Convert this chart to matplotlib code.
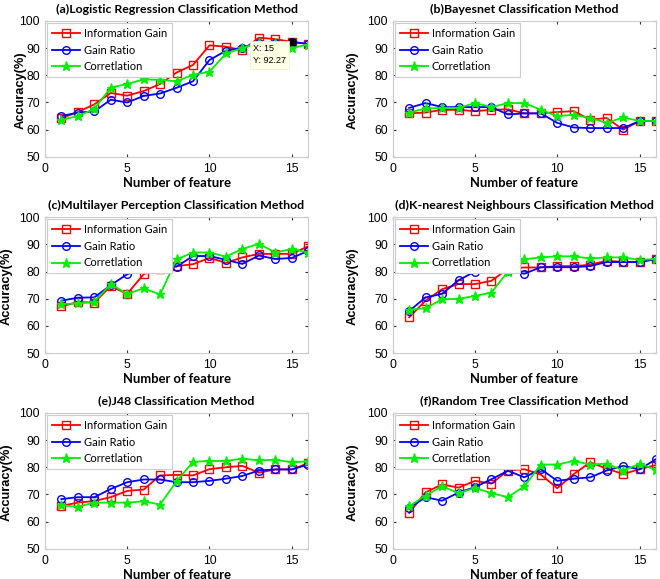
import numpy as np
import matplotlib
matplotlib.use("Agg")
import matplotlib.pyplot as plt

# =========================
# DATA
# =========================
features = list(range(1, 17))
series_names = ["Information Gain", "Gain Ratio", "Corretlation"]

titles = [
    "(a)Logistic Regression Classification Method",
    "(b)Bayesnet Classification Method",
    "(c)Multilayer Perception Classification Method",
    "(d)K-nearest Neighbours Classification Method",
    "(e)J48 Classification Method",
    "(f)Random Tree Classification Method",
]

lr_ig = [64.2, 66.5, 69.3, 73.5, 72.5, 74.2, 76.8, 81.0, 83.8, 91.0, 90.5, 89.2, 93.8, 93.3, 92.27, 91.5]
lr_gr = [65.0, 66.3, 66.7, 71.0, 70.0, 72.4, 73.3, 75.4, 77.8, 85.6, 89.0, 90.2, 92.0, 92.0, 92.27, 91.5]
lr_co = [63.6, 65.0, 67.6, 75.5, 76.8, 78.5, 78.3, 77.8, 80.2, 81.3, 88.0, 90.0, 92.0, 92.0, 90.0, 91.3]

bn_ig = [66.0, 66.3, 67.3, 67.3, 66.8, 67.3, 67.5, 66.0, 66.0, 66.5, 66.8, 63.7, 64.3, 60.0, 63.2, 63.2]
bn_gr = [68.0, 69.8, 68.3, 68.3, 68.3, 68.3, 65.6, 66.0, 66.0, 62.5, 60.8, 60.6, 60.6, 60.6, 63.2, 63.2]
bn_co = [66.3, 67.8, 68.0, 68.0, 69.8, 68.3, 69.8, 69.8, 67.3, 65.0, 65.5, 64.3, 62.5, 64.5, 63.2, 63.2]

mlp_ig = [67.2, 68.8, 68.6, 74.6, 71.8, 79.0, 81.0, 82.0, 82.7, 85.0, 83.2, 85.2, 86.5, 86.5, 86.5, 89.3]
mlp_gr = [69.3, 70.4, 70.5, 75.0, 79.0, 81.0, 82.0, 81.8, 85.7, 85.7, 84.3, 82.8, 85.9, 84.6, 85.0, 87.6]
mlp_co = [68.0, 68.3, 68.8, 75.4, 71.8, 73.8, 71.6, 84.5, 87.0, 87.0, 85.5, 88.3, 90.2, 87.0, 88.3, 87.0]

knn_ig = [63.2, 69.3, 73.5, 75.4, 75.4, 76.6, 81.0, 81.5, 81.5, 82.0, 82.0, 82.5, 84.0, 83.5, 83.5, 84.6]
knn_gr = [65.5, 70.5, 71.8, 76.8, 80.0, 81.0, 80.2, 79.2, 81.6, 81.6, 81.6, 82.0, 83.5, 83.5, 83.5, 84.6]
knn_co = [66.0, 66.5, 69.8, 70.0, 71.0, 72.3, 80.0, 84.5, 85.2, 85.6, 85.6, 84.8, 85.2, 85.2, 84.3, 84.6]

j48_ig = [65.8, 67.0, 67.6, 69.0, 71.3, 71.8, 77.0, 77.2, 77.0, 79.3, 80.0, 80.5, 78.0, 79.2, 79.2, 81.5]
j48_gr = [68.3, 69.0, 69.0, 72.0, 74.5, 75.5, 75.5, 74.5, 74.5, 75.0, 75.8, 76.8, 78.8, 79.2, 79.2, 81.0]
j48_co = [66.0, 65.5, 67.0, 67.0, 67.0, 67.5, 66.3, 74.8, 82.0, 82.3, 82.3, 83.2, 82.5, 82.8, 81.8, 82.2]

rt_ig = [63.2, 70.8, 73.7, 72.5, 75.0, 74.0, 78.8, 79.3, 77.3, 72.3, 77.5, 81.8, 79.5, 77.5, 79.3, 80.8]
rt_gr = [65.0, 69.0, 67.7, 70.7, 72.7, 75.6, 78.7, 76.3, 79.3, 75.0, 75.8, 76.3, 78.8, 80.5, 79.2, 83.0]
rt_co = [65.6, 69.6, 73.0, 70.5, 72.4, 70.5, 69.0, 73.0, 81.0, 81.0, 82.3, 81.0, 81.3, 78.8, 81.3, 79.0]

all_data = [
    (lr_ig, lr_gr, lr_co),
    (bn_ig, bn_gr, bn_co),
    (mlp_ig, mlp_gr, mlp_co),
    (knn_ig, knn_gr, knn_co),
    (j48_ig, j48_gr, j48_co),
    (rt_ig, rt_gr, rt_co),
]

# data tip in panel (a)
tip_x = 15
tip_y = 92.27

# =========================
# STYLE
# =========================
colors = ["#ff0000", "#0000ff", "#00ee00"]
markers = ["s", "o", "*"]
msizes = [5.5, 5.5, 6.5]
label_font = "Lato"
tick_font = "Liberation Sans"

# axes rectangles [left, bottom, width, height] in figure fraction
lefts = [0.068, 0.595]
bottoms = [0.729, 0.390, 0.052]
width = 0.399
height = 0.235
ylabel_x = [-0.07, -0.13, -0.123, -0.13, -0.123, -0.13]

fig = plt.figure(figsize=(6.6, 5.79), dpi=100)

for i, (title, data) in enumerate(zip(titles, all_data)):
    row, col = divmod(i, 2)
    ax = fig.add_axes([lefts[col], bottoms[row], width, height])

    for vals, name, c, m, ms in zip(data, series_names, colors, markers, msizes):
        ax.plot(features, vals, color=c, marker=m, markersize=ms,
                markerfacecolor="none" if m != "*" else c,
                markeredgecolor=c, markeredgewidth=1.0,
                linewidth=1.3, label=name)

    ax.set_xlim(0, 16)
    ax.set_ylim(50, 100)
    ax.set_xticks([0, 5, 10, 15])
    ax.set_yticks([50, 60, 70, 80, 90, 100])
    ax.tick_params(direction="in", length=2, width=0.8, top=True, right=True,
                   labelsize=8.8, color="#333333")
    ax.tick_params(axis="x", pad=4.5)
    ax.tick_params(axis="y", pad=3.5)
    for lab in ax.get_xticklabels() + ax.get_yticklabels():
        lab.set_fontfamily(tick_font)
    for sp in ax.spines.values():
        sp.set_color("#cccccc")
        sp.set_linewidth(0.8)

    ax.set_title(title, fontsize=8.9, fontweight="bold", family=label_font, pad=6)
    ax.set_xlabel("Number of feature", fontsize=9.4, fontweight="bold",
                  family=label_font, labelpad=1)
    ax.set_ylabel("Accuracy(%)", fontsize=9.3, fontweight="bold", family=tick_font)
    ax.yaxis.set_label_coords(ylabel_x[i], 0.49)

    leg = ax.legend(loc="upper left", prop={"family": label_font, "size": 8.0},
                    frameon=True, fancybox=False, borderaxespad=0.2,
                    handlelength=2.5, handletextpad=0.35, labelspacing=0.5,
                    borderpad=0.45)
    leg.get_frame().set_edgecolor("#cccccc")
    leg.get_frame().set_linewidth(0.8)
    leg.get_frame().set_alpha(1.0)

    if i == 0:
        ax.plot([tip_x], [tip_y], marker="s", color="black", markersize=5, zorder=5)
        ax.annotate(f"X: {tip_x}\nY: {tip_y}", xy=(tip_x, tip_y),
                    xytext=(12.65, 83.6), fontsize=6.5, family=tick_font,
                    ha="left", va="bottom", zorder=6, linespacing=1.5,
                    bbox=dict(boxstyle="square,pad=0.35", facecolor="#ffffe6",
                              edgecolor="#f0f0d0", linewidth=0.5))

fig.savefig("out.png", dpi=100)
